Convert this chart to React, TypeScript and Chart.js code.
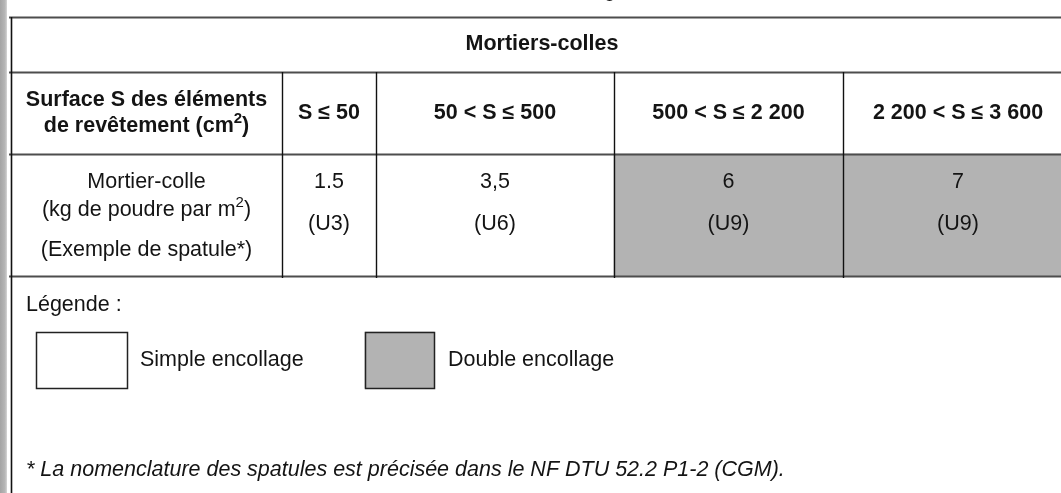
import React, { useEffect, useRef } from "react";
import { Chart, registerables } from "chart.js";

Chart.register(...registerables);

// ---- data ----
const title = "Mortiers-colles";
const rowHeaderLines = ["Surface S des éléments", "de revêtement (cm^2)"];
const rowLabelLines = ["Mortier-colle", "(kg de poudre par m^2)", "(Exemple de spatule*)"];
const surfaceRanges = ["S ≤ 50", "50 < S ≤ 500", "500 < S ≤ 2 200", "2 200 < S ≤ 3 600"];
const mortarKg = ["1.5", "3,5", "6", "7"];
const spatulas = ["(U3)", "(U6)", "(U9)", "(U9)"];
const encollage = ["simple", "simple", "double", "double"];
const legendTitle = "Légende :";
const legendLabels = ["Simple encollage", "Double encollage"];
const footnote = "* La nomenclature des spatules est précisée dans le NF DTU 52.2 P1-2 (CGM).";
const captionTail = "g";

// ---- layout (scale units) ----
const W = 1061;
const H = 493;
const colEdges = [11, 282, 376, 614, 843, 1073];
const rowEdges = [17, 72, 154, 276];
const GREY = "#b3b3b3";
const TEXT = "#141414";
const FONT = "'Liberation Sans', Arial, Helvetica, sans-serif";
const FS = 21.5;

type Seg = { t: string; sup: boolean };
function parseRich(s: string): Seg[] {
  const out: Seg[] = [];
  let buf = "";
  for (let i = 0; i < s.length; i++) {
    if (s[i] === "^" && i + 1 < s.length) {
      if (buf) out.push({ t: buf, sup: false });
      buf = "";
      out.push({ t: s[i + 1], sup: true });
      i++;
    } else buf += s[i];
  }
  if (buf) out.push({ t: buf, sup: false });
  return out;
}

function drawRich(
  ctx: CanvasRenderingContext2D,
  s: string,
  x: number,
  y: number,
  align: "center" | "left",
  weight: string,
  style = "normal",
  size = FS
) {
  const segs = parseRich(s);
  const mainFont = `${style} ${weight} ${size}px ${FONT}`;
  const supFont = `${style} ${weight} ${Math.round(size * 0.68)}px ${FONT}`;
  let total = 0;
  const widths = segs.map((sg) => {
    ctx.font = sg.sup ? supFont : mainFont;
    const w = ctx.measureText(sg.t).width;
    total += w;
    return w;
  });
  let cx = align === "center" ? x - total / 2 : x;
  ctx.textAlign = "left";
  ctx.textBaseline = "middle";
  ctx.fillStyle = TEXT;
  segs.forEach((sg, i) => {
    ctx.font = sg.sup ? supFont : mainFont;
    ctx.fillText(sg.t, cx, sg.sup ? y - size * 0.34 : y);
    cx += widths[i];
  });
}

const tablePlugin = {
  id: "tablePlugin",
  afterDatasetsDraw(chart: any) {
    const ctx: CanvasRenderingContext2D = chart.ctx;
    const xs = chart.scales.x;
    const ys = chart.scales.y;
    const px = (v: number) => xs.getPixelForValue(v);
    const py = (v: number) => ys.getPixelForValue(v);
    ctx.save();

    // left page strip
    const g = ctx.createLinearGradient(px(0), 0, px(7), 0);
    g.addColorStop(0, "#a4a4a4");
    g.addColorStop(0.7, "#b6b6b6");
    g.addColorStop(1, "#d6d6d6");
    ctx.fillStyle = g;
    ctx.fillRect(px(0), py(0), px(7) - px(0), py(H) - py(0));

    // caption tail (cut off at top)
    ctx.font = `normal 400 ${FS}px ${FONT}`;
    ctx.textBaseline = "alphabetic";
    ctx.textAlign = "left";
    ctx.fillStyle = TEXT;
    ctx.fillText(captionTail, px(604), py(-4));

    // horizontal rules
    ctx.strokeStyle = "#4d4d4d";
    ctx.lineWidth = 2;
    rowEdges.forEach((r) => {
      ctx.beginPath();
      ctx.moveTo(px(9), py(r) + 0.5);
      ctx.lineTo(px(W), py(r) + 0.5);
      ctx.stroke();
    });

    // left border (full height)
    ctx.strokeStyle = "#111";
    ctx.lineWidth = 1.6;
    ctx.beginPath();
    ctx.moveTo(px(colEdges[0]) + 0.5, py(rowEdges[0]));
    ctx.lineTo(px(colEdges[0]) + 0.5, py(H));
    ctx.stroke();

    // column separators
    ctx.lineWidth = 1.4;
    for (let i = 1; i < colEdges.length - 1; i++) {
      ctx.beginPath();
      ctx.moveTo(px(colEdges[i]) + 0.5, py(rowEdges[1]));
      ctx.lineTo(px(colEdges[i]) + 0.5, py(rowEdges[3] + 2));
      ctx.stroke();
    }

    // title
    drawRich(ctx, title, px((colEdges[0] + colEdges[5]) / 2), py(44), "center", "bold");

    // header row
    const hMid = (rowEdges[1] + rowEdges[2]) / 2;
    const c0 = (colEdges[0] + colEdges[1]) / 2;
    drawRich(ctx, rowHeaderLines[0], px(c0), py(hMid - 13), "center", "bold");
    drawRich(ctx, rowHeaderLines[1], px(c0), py(hMid + 13), "center", "bold");
    surfaceRanges.forEach((s, i) => {
      const cx = (colEdges[i + 1] + colEdges[i + 2]) / 2;
      drawRich(ctx, s, px(cx), py(hMid), "center", "bold");
    });

    // data row
    drawRich(ctx, rowLabelLines[0], px(c0), py(182), "center", "normal");
    drawRich(ctx, rowLabelLines[1], px(c0), py(210), "center", "normal");
    drawRich(ctx, rowLabelLines[2], px(c0), py(250), "center", "normal");
    mortarKg.forEach((v, i) => {
      const cx = (colEdges[i + 1] + colEdges[i + 2]) / 2;
      drawRich(ctx, v, px(cx), py(182), "center", "normal");
      drawRich(ctx, spatulas[i], px(cx), py(224), "center", "normal");
    });

    // legend
    drawRich(ctx, legendTitle, px(26), py(305), "left", "normal");
    ctx.strokeStyle = "#222";
    ctx.lineWidth = 1.5;
    ctx.strokeRect(px(36) + 0.5, py(332) + 0.5, px(127) - px(36), py(388) - py(332));
    ctx.strokeRect(px(365) + 0.5, py(332) + 0.5, px(434) - px(365), py(388) - py(332));
    drawRich(ctx, legendLabels[0], px(140), py(360), "left", "normal");
    drawRich(ctx, legendLabels[1], px(448), py(360), "left", "normal");

    // footnote
    drawRich(ctx, footnote, px(26), py(470), "left", "normal", "italic");

    ctx.restore();
  },
};

export default function App() {
  const ref = useRef<HTMLCanvasElement | null>(null);
  useEffect(() => {
    if (!ref.current) return;
    const rowMid = (rowEdges[2] + rowEdges[3]) / 2;
    const cellData = encollage
      .map((e, i) => (e === "double" ? { x: [colEdges[i + 1], colEdges[i + 2]], y: rowMid } : null))
      .filter((d) => d !== null);
    const legendIdx = legendLabels.indexOf("Double encollage");
    const chart = new Chart(ref.current, {
      type: "bar",
      data: {
        datasets: [
          {
            label: "Double encollage",
            data: cellData as any,
            backgroundColor: GREY,
            borderWidth: 0,
            barThickness: rowEdges[3] - rowEdges[2],
          } as any,
          {
            label: legendLabels[legendIdx],
            data: [{ x: [365, 434], y: 360 }] as any,
            backgroundColor: GREY,
            borderWidth: 0,
            barThickness: 56,
          } as any,
        ],
      },
      options: {
        indexAxis: "y",
        animation: false,
        responsive: false,
        devicePixelRatio: 1,
        events: [],
        layout: { padding: 0 },
        plugins: { legend: { display: false }, tooltip: { enabled: false } },
        scales: {
          x: { type: "linear", min: 0, max: W, display: false, offset: false },
          y: { type: "linear", min: 0, max: H, reverse: true, display: false, offset: false },
        },
        datasets: { bar: { grouped: false } as any },
      } as any,
      plugins: [tablePlugin],
    });
    return () => chart.destroy();
  }, []);
  return (
    <div style={{ position: "fixed", left: 0, top: 0, width: W, height: H, background: "#fff" }}>
      <canvas ref={ref} width={W} height={H} style={{ width: W, height: H, display: "block" }} />
    </div>
  );
}
